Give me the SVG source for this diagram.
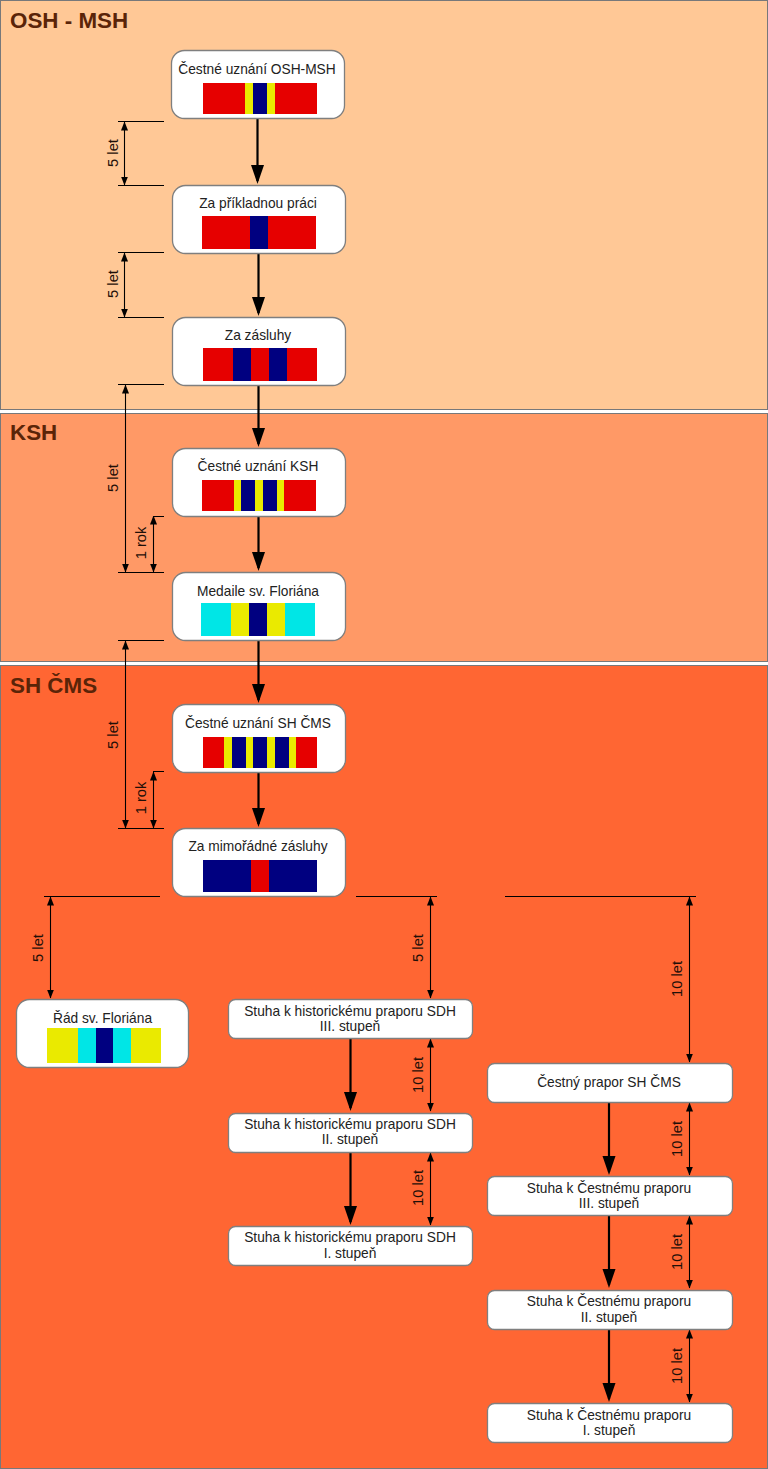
<svg xmlns="http://www.w3.org/2000/svg" width="768" height="1469" viewBox="0 0 768 1469">
<defs>
<marker id="big" markerUnits="userSpaceOnUse" markerWidth="20" markerHeight="14" refX="16" refY="6.500" orient="auto"><path d="M0,0L19,6.500L0,13Z" fill="#000"/></marker>
<marker id="sm" markerUnits="userSpaceOnUse" markerWidth="9" markerHeight="8" refX="8.500" refY="3.500" orient="auto-start-reverse"><path d="M0,0L9,3.500L0,7Z" fill="#000"/></marker>
</defs>
<style>
text{font-family:"Liberation Sans",Arial,sans-serif;fill:#222}
.n{font-size:13.75px;text-anchor:middle}
.h{font-size:22.4px;font-weight:bold;fill:#5a2408}
.d{font-size:14.7px;text-anchor:middle;fill:#1e0f08}
.box{fill:#fff;stroke:#7f7f7f;stroke-width:1.3}
.f{stroke:#000;stroke-width:2.2;fill:none;marker-end:url(#big)}
.t{stroke:#000;stroke-width:1;fill:none}
.a{stroke:#000;stroke-width:1.1;fill:none;marker-start:url(#sm);marker-end:url(#sm)}
.r{fill:#e60000}.b{fill:#000080}.y{fill:#eaea00}.c{fill:#00e6e6}
</style>
<g id="bands">
<rect x="0.500" y="0.500" width="767" height="409" fill="#ffc896" stroke="#77787a"/>
<rect x="0.500" y="413.500" width="767" height="248" fill="#ff9966" stroke="#77787a"/>
<rect x="0.500" y="665.500" width="767" height="803" fill="#ff6633" stroke="#77787a"/>
<text class="h" x="10" y="28">OSH - MSH</text>
<text class="h" x="10" y="440">KSH</text>
<text class="h" x="10" y="693">SH ČMS</text>
</g>
<g id="connectors">
<path class="f" d="M257.500,118V181"/>
<path class="f" d="M258.500,253V313"/>
<path class="f" d="M258.500,385V444"/>
<path class="f" d="M258.500,516V568"/>
<path class="f" d="M258.500,641V700"/>
<path class="f" d="M258.500,772V824"/>
<path class="f" d="M350.500,1039V1108"/>
<path class="f" d="M350.500,1153V1222"/>
<path class="f" d="M609,1103V1172"/>
<path class="f" d="M609,1216V1285"/>
<path class="f" d="M609,1330V1399"/>
<path class="t" d="M118,121.500H164M118,185.500H164M118,252.500H164M118,317.500H164M118,384.500H164M118,572.500H164M118,640.500H164M118,828.500H164M153,516.500H164M153,771.500H164M44,896.500H160M356,896.500H437M505,896.500H696"/>
<path class="a" d="M124.500,122V185"/>
<path class="a" d="M124.500,253V317"/>
<path class="a" d="M125.500,385V572"/>
<path class="a" d="M153.500,516V572"/>
<path class="a" d="M125.500,641V828"/>
<path class="a" d="M153.500,772V828"/>
<path class="a" d="M50.500,897V998"/>
<path class="a" d="M430.500,897V998"/>
<path class="a" d="M430.500,1039V1111"/>
<path class="a" d="M430.500,1153V1225"/>
<path class="a" d="M689.500,897V1062"/>
<path class="a" d="M689.500,1103V1175"/>
<path class="a" d="M689.500,1216V1288"/>
<path class="a" d="M689.500,1330V1402"/>
<text class="d" transform="translate(118,153) rotate(-90)">5 let</text>
<text class="d" transform="translate(118,284) rotate(-90)">5 let</text>
<text class="d" transform="translate(118,478) rotate(-90)">5 let</text>
<text class="d" transform="translate(146,543) rotate(-90)">1 rok</text>
<text class="d" transform="translate(118,735) rotate(-90)">5 let</text>
<text class="d" transform="translate(146,798) rotate(-90)">1 rok</text>
<text class="d" transform="translate(43,948) rotate(-90)">5 let</text>
<text class="d" transform="translate(423,948) rotate(-90)">5 let</text>
<text class="d" transform="translate(423,1075) rotate(-90)">10 let</text>
<text class="d" transform="translate(423,1188) rotate(-90)">10 let</text>
<text class="d" transform="translate(682,979) rotate(-90)">10 let</text>
<text class="d" transform="translate(682,1139) rotate(-90)">10 let</text>
<text class="d" transform="translate(682,1252) rotate(-90)">10 let</text>
<text class="d" transform="translate(682,1366) rotate(-90)">10 let</text>
</g>
<g id="n1"><rect class="box" x="171.500" y="50.500" width="173" height="68" rx="13"/><text class="n" x="257" y="74">Čestné uznání OSH-MSH</text>
<rect class="r" x="203" y="83" width="114" height="31"/><rect class="y" x="245" y="83" width="30" height="31"/><rect class="b" x="253" y="83" width="14" height="31"/></g>
<g id="n2"><rect class="box" x="172.500" y="185.500" width="173" height="68" rx="13"/><text class="n" x="258" y="208">Za příkladnou práci</text>
<rect class="r" x="202" y="216" width="114" height="33"/><rect class="b" x="250" y="216" width="18" height="33"/></g>
<g id="n3"><rect class="box" x="172.500" y="317.500" width="173" height="68" rx="13"/><text class="n" x="258" y="340">Za zásluhy</text>
<rect class="r" x="203" y="348" width="114" height="33"/><rect class="b" x="233" y="348" width="18" height="33"/><rect class="b" x="269" y="348" width="18" height="33"/></g>
<g id="n4"><rect class="box" x="172.500" y="448.500" width="173" height="68" rx="13"/><text class="n" x="258" y="471">Čestné uznání KSH</text>
<rect class="r" x="202" y="480" width="114" height="31"/><rect class="y" x="234" y="480" width="50" height="31"/><rect class="b" x="241" y="480" width="14" height="31"/><rect class="b" x="263" y="480" width="14" height="31"/></g>
<g id="n5"><rect class="box" x="172.500" y="572.500" width="173" height="68" rx="13"/><text class="n" x="258" y="596">Medaile sv. Floriána</text>
<rect class="c" x="201" y="603" width="114" height="33"/><rect class="y" x="231" y="603" width="54" height="33"/><rect class="b" x="249" y="603" width="18" height="33"/></g>
<g id="n6"><rect class="box" x="172.500" y="704.500" width="173" height="68" rx="13"/><text class="n" x="258" y="728">Čestné uznání SH ČMS</text>
<rect class="r" x="203" y="737" width="114" height="31"/><rect class="y" x="224" y="737" width="72" height="31"/><rect class="b" x="232" y="737" width="14" height="31"/><rect class="b" x="253" y="737" width="14" height="31"/><rect class="b" x="275" y="737" width="14" height="31"/></g>
<g id="n7"><rect class="box" x="172.500" y="828.500" width="173" height="68" rx="13"/><text class="n" x="258" y="851">Za mimořádné zásluhy</text>
<rect class="b" x="203" y="860" width="114" height="32"/><rect class="r" x="251" y="860" width="18" height="32"/></g>
<g id="n8"><rect class="box" x="16.500" y="999.500" width="172" height="68" rx="13"/><text class="n" x="102.500" y="1023">Řád sv. Floriána</text>
<rect class="y" x="47" y="1028" width="114" height="35"/><rect class="c" x="78" y="1028" width="53" height="35"/><rect class="b" x="96" y="1028" width="17" height="35"/></g>
<g id="n9"><rect class="box" x="228.500" y="999.500" width="244" height="39" rx="7"/><text class="n" x="350" y="1016">Stuha k historickému praporu SDH</text><text class="n" x="350" y="1031">III. stupeň</text></g>
<g id="n10"><rect class="box" x="228.500" y="1113.500" width="244" height="39" rx="7"/><text class="n" x="350" y="1129">Stuha k historickému praporu SDH</text><text class="n" x="350" y="1144">II. stupeň</text></g>
<g id="n11"><rect class="box" x="228.500" y="1226.500" width="244" height="39" rx="7"/><text class="n" x="350" y="1242">Stuha k historickému praporu SDH</text><text class="n" x="350" y="1258">I. stupeň</text></g>
<g id="n12"><rect class="box" x="487.500" y="1063.500" width="245" height="39" rx="7"/><text class="n" x="609" y="1087">Čestný prapor SH ČMS</text></g>
<g id="n13"><rect class="box" x="487.500" y="1176.500" width="245" height="39" rx="7"/><text class="n" x="609" y="1193">Stuha k Čestnému praporu</text><text class="n" x="609" y="1208">III. stupeň</text></g>
<g id="n14"><rect class="box" x="487.500" y="1290.500" width="245" height="39" rx="7"/><text class="n" x="609" y="1306">Stuha k Čestnému praporu</text><text class="n" x="609" y="1322">II. stupeň</text></g>
<g id="n15"><rect class="box" x="487.500" y="1403.500" width="245" height="39" rx="7"/><text class="n" x="609" y="1420">Stuha k Čestnému praporu</text><text class="n" x="609" y="1435">I. stupeň</text></g>
</svg>
